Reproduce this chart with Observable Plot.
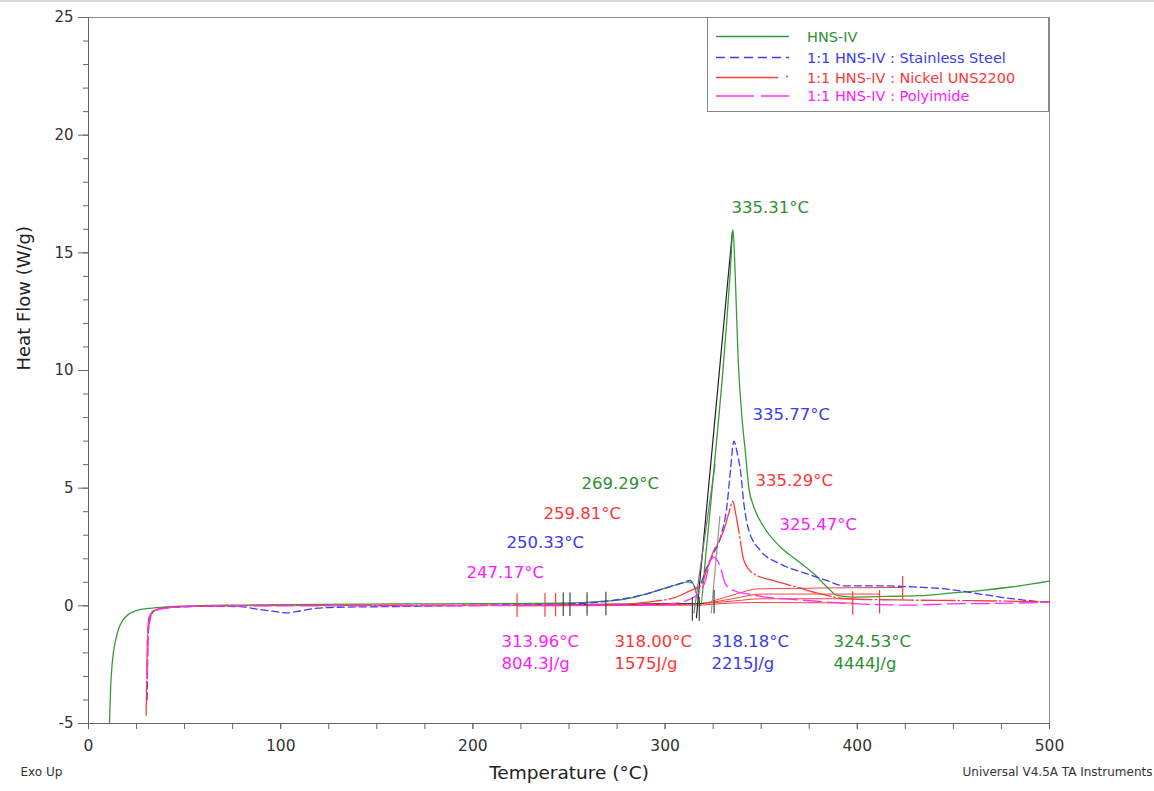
<!DOCTYPE html>
<html>
<head>
<meta charset="utf-8">
<script src="https://cdn.jsdelivr.net/npm/d3@7"></script>
<script src="https://cdn.jsdelivr.net/npm/@observablehq/plot@0.6"></script>
<style>
  body { margin: 0; background: #fff; }
  #wrap { position: relative; width: 1154px; height: 791px; }
  #topbar { position: absolute; left: 0; top: 0; width: 1154px; height: 2px; background: #d8d8d8; }
  #legend { position: absolute; left: 707px; top: 17px; width: 342px; height: 95px; border: 1px solid #888; background: #fff; box-sizing: border-box; }
  #legend svg { position: absolute; left: 0; top: 0; }
</style>
</head>
<body>
<div id="wrap"><div id="topbar"></div></div>
<script>
// ---------------- data (temperature °C, heat flow W/g) ----------------
const hnsT = [10.9, 11.5, 12.5, 14, 16, 18, 21, 25, 30, 40, 55, 80, 120, 160, 200, 230, 250, 265, 280, 290, 300, 307, 312, 314.5, 316.5, 318.4, 321, 324.5, 327, 329.7, 332, 334, 335.3, 336.5, 338, 340.1, 341.8, 343.6, 346.2, 351.4, 360, 368.7, 377.4, 384.4, 389.5, 398, 415, 432, 450, 465, 480, 500];
const hnsW = [-5, -3.5, -2.3, -1.5, -0.9, -0.6, -0.35, -0.2, -0.12, -0.05, 0, 0.03, 0.06, 0.08, 0.09, 0.1, 0.12, 0.18, 0.3, 0.5, 0.75, 0.92, 1.02, 0.95, 0.45, 0.0, 2.0, 5.0, 7.2, 9.6, 12, 14.3, 16.0, 14.0, 10.5, 7.9, 6.5, 5.0, 4.2, 3.35, 2.5, 1.93, 1.36, 0.79, 0.44, 0.37, 0.4, 0.43, 0.55, 0.66, 0.8, 1.05];

const steelT = [30.5, 30.7, 31, 32, 33, 36, 41, 48, 60, 79, 86, 95, 103.5, 110, 117, 130, 160, 200, 230, 250, 270, 290, 300, 308, 313.2, 316, 318, 321, 325, 328.8, 332.3, 334, 335.8, 337.5, 339.2, 341, 343.6, 349.6, 360, 373.9, 384.4, 393, 412, 430, 446, 464, 481, 496, 500];
const steelW = [-4.0, -2.5, -1.2, -0.6, -0.3, -0.15, -0.08, -0.05, -0.02, -0.03, -0.12, -0.22, -0.3, -0.22, -0.12, -0.06, -0.03, 0.02, 0.05, 0.08, 0.2, 0.5, 0.75, 0.95, 1.08, 0.75, 0.85, 1.5, 2.2, 2.9, 4.33, 5.75, 7.0, 6.5, 5.75, 4.33, 3.2, 2.35, 1.78, 1.36, 1.07, 0.85, 0.85, 0.8, 0.72, 0.5, 0.3, 0.17, 0.15];

const nickelT = [30, 30.3, 30.7, 31.5, 34, 40, 50, 70, 120, 200, 250, 280, 295, 305, 312, 316, 318.4, 322, 325.3, 327, 330.5, 333, 335.3, 336.5, 338.3, 341, 346.2, 356.6, 368.7, 380.8, 394.5, 420, 460, 500];
const nickelW = [-4.65, -3.0, -1.2, -0.5, -0.2, -0.08, -0.02, 0, 0.02, 0.03, 0.04, 0.08, 0.2, 0.35, 0.6, 0.75, 0.85, 1.6, 2.35, 2.6, 3.2, 3.9, 4.45, 4.0, 3.2, 1.93, 1.36, 1.07, 0.79, 0.51, 0.3, 0.25, 0.22, 0.17];

const polyT = [30.5, 30.8, 31, 32, 35, 42, 55, 80, 150, 250, 300, 305, 312, 317, 321, 323.6, 325.5, 328.8, 331.4, 335.7, 342.7, 350, 370, 400, 430, 446, 470, 500];
const polyW = [-3.1, -2.2, -1.5, -0.5, -0.2, -0.08, -0.02, 0, 0.0, 0.02, 0.05, 0.1, 0.25, 0.5, 1.07, 1.93, 2.07, 1.64, 0.93, 0.65, 0.51, 0.4, 0.25, 0.08, 0.03, 0.08, 0.1, 0.15];

// integration baselines drawn by the analysis software
const baseSteelT = [243, 318, 325.4, 337, 348, 423.6];
const baseSteelW = [0.03, 0.08, 0.22, 0.5, 0.72, 0.78];
const baseHnsT = [237.5, 318, 335, 350, 411.6];
const baseHnsW = [0.05, 0.1, 0.3, 0.5, 0.5];
const baseNickelT = [223, 318, 335, 350, 397.6];
const baseNickelW = [0.02, 0.1, 0.2, 0.3, 0.3];
const basePolyT = [223, 318, 330, 345, 397.6];
const basePolyW = [0.0, 0.03, 0.1, 0.14, 0.12];

// onset tangent lines
const tan1T = [316.3, 335.0], tan1W = [-0.5, 15.9];
const tan2T = [315.0, 326.0], tan2W = [-0.3, 6.0];
const tan3T = [324.0, 328.5], tan3W = [-0.3, 3.8];
const flatT = [247, 320], flatW = [0.05, 0.1];

// analysis limit markers
const redLimT = [223, 237.5, 243, 397.6, 411.6, 423.6];
const redLimW = [0.0, 0.02, 0.03, 0.1, 0.15, 0.75];
const blackLimT = [247, 250.5, 259.4, 269.2, 314.2, 317.8, 325.5];
const blackLimW = [0.05, 0.05, 0.06, 0.08, -0.15, -0.15, 0.15];

// peak / onset annotations
const noteText = ["335.31°C", "335.77°C", "335.29°C", "325.47°C", "269.29°C", "259.81°C", "250.33°C", "247.17°C",
                  "313.96°C", "804.3J/g", "318.00°C", "1575J/g", "318.18°C", "2215J/g", "324.53°C", "4444J/g"];
const noteT = [334.5, 345.5, 347, 359.5, 256.5, 236.7, 217.5, 196.7, 214.9, 214.9, 273.7, 273.7, 324.1, 324.1, 387.6, 387.6];
const noteW = [16.9, 8.1, 5.3, 3.45, 5.2, 3.9, 2.7, 1.4, -1.52, -2.46, -1.52, -2.46, -1.52, -2.46, -1.52, -2.46];
const noteSeries = ["hns", "steel", "nickel", "poly", "hns", "nickel", "steel", "poly", "poly", "poly", "nickel", "nickel", "steel", "steel", "hns", "hns"];

const seriesNames = ["HNS-IV", "1:1 HNS-IV : Stainless Steel", "1:1 HNS-IV : Nickel UNS2200", "1:1 HNS-IV : Polyimide"];
const yMajor = [-5, 0, 5, 10, 15, 20, 25];
const yMinor = d3.range(-5, 26, 1);
const xMajor = [0, 100, 200, 300, 400, 500];
const xMinor = d3.range(0, 501, 25);

// ---------------- styles ----------------
const colors = {hns: "#3a9a3a", steel: "#3c3cff", nickel: "#ff3c3c", poly: "#ff2cff"};
const textColors = {hns: "#2e9030", steel: "#3a3af0", nickel: "#ff3535", poly: "#ff1aff"};
const dashes = {hns: null, steel: "7,4", nickel: "34,3,1.5,3", poly: "18,6"};

const zip = (T, W) => T.map((t, i) => ({t, w: W[i]}));
const series = [
  {key: "hns", data: zip(hnsT, hnsW)},
  {key: "steel", data: zip(steelT, steelW)},
  {key: "nickel", data: zip(nickelT, nickelW)},
  {key: "poly", data: zip(polyT, polyW)}
];
const notes = noteText.map((s, i) => ({s, t: noteT[i], w: noteW[i], k: noteSeries[i]}));
const baselines = [zip(baseSteelT, baseSteelW), zip(baseHnsT, baseHnsW), zip(baseNickelT, baseNickelW), zip(basePolyT, basePolyW)];
const limits = [...zip(redLimT, redLimW).map(d => ({...d, c: "#ff3c3c"})), ...zip(blackLimT, blackLimW).map(d => ({...d, c: "#444"}))];

const font = "DejaVu Sans";
const fmt = d => String(d); // plain hyphen-minus, as in the original

const chart = Plot.plot({
  width: 1154,
  height: 791,
  marginLeft: 88,
  marginRight: 105,
  marginTop: 17,
  marginBottom: 68,
  style: {fontFamily: font, fontSize: "15px", color: "#333", background: "transparent", overflow: "visible"},
  x: {domain: [0, 500]},
  y: {domain: [-5, 25]},
  marks: [
    Plot.frame({stroke: "#8a8a8a"}),
    Plot.axisY({ticks: yMinor, tickSize: 5, tickFormat: () => "", label: null, stroke: "#666"}),
    Plot.axisY({ticks: yMajor, tickSize: 10, tickPadding: 5, tickFormat: fmt, label: null, fontSize: 15, stroke: "#666"}),
    Plot.axisX({ticks: xMinor, tickSize: 6, tickFormat: () => "", label: null, stroke: "#666"}),
    Plot.axisX({ticks: xMajor, tickSize: 6, tickPadding: 10, tickFormat: fmt, label: null, fontSize: 15.5, stroke: "#666"}),
    Plot.ruleY([-5], {stroke: "#666"}),
    Plot.ruleX([0], {stroke: "#666"}),
    // analysis baselines
    ...baselines.map(b => Plot.line(b, {x: "t", y: "w", stroke: "#ff4040", strokeWidth: 1, curve: "monotone-x"})),
    Plot.line(zip(flatT, flatW), {x: "t", y: "w", stroke: "#333", strokeWidth: 1}),
    // tangents
    Plot.line(zip(tan1T, tan1W), {x: "t", y: "w", stroke: "#222", strokeWidth: 1.2}),
    Plot.line(zip(tan2T, tan2W), {x: "t", y: "w", stroke: "#777", strokeWidth: 1.2}),
    Plot.line(zip(tan3T, tan3W), {x: "t", y: "w", stroke: "#999", strokeWidth: 1.2}),
    // curves
    ...series.map(s => Plot.line(s.data, {x: "t", y: "w", stroke: colors[s.key], strokeWidth: 1.3, strokeDasharray: dashes[s.key], curve: "monotone-x"})),
    // limit markers
    Plot.ruleX(limits, {x: "t", y1: d => d.w - 0.5, y2: d => d.w + 0.5, stroke: "c", strokeWidth: 1.2}),
    // annotations
    Plot.text(notes, {x: "t", y: "w", text: "s", fill: d => textColors[d.k], textAnchor: "start", fontSize: 16.5, lineAnchor: "middle"}),
    // axis titles and footer
    Plot.text(["Heat Flow (W/g)"], {frameAnchor: "left", rotate: -90, dx: -64, fontSize: 18, fill: "#222"}),
    Plot.text(["Temperature (°C)"], {frameAnchor: "bottom", dy: 55, fontSize: 18.5, fill: "#222"}),
    Plot.text(["Exo Up"], {frameAnchor: "bottom-left", textAnchor: "start", dx: -68, dy: 52, fontSize: 12, fill: "#333"}),
    Plot.text(["Universal V4.5A TA Instruments"], {frameAnchor: "bottom-right", textAnchor: "end", dx: 103, dy: 52, fontSize: 12, fill: "#333"})
  ]
});
const wrap = document.getElementById("wrap");
wrap.appendChild(chart);

// legend (HTML overlay)
const keys = ["hns", "steel", "nickel", "poly"];
const leg = document.createElement("div");
leg.id = "legend";
const ns = "http://www.w3.org/2000/svg";
const svg = document.createElementNS(ns, "svg");
svg.setAttribute("width", 342); svg.setAttribute("height", 95);
const rowY = [18.5, 39.5, 59.5, 78];
keys.forEach((k, i) => {
  const ln = document.createElementNS(ns, "line");
  ln.setAttribute("x1", 8); ln.setAttribute("x2", k === "nickel" ? 70 : 81);
  ln.setAttribute("y1", rowY[i]); ln.setAttribute("y2", rowY[i]);
  ln.setAttribute("stroke", colors[k]); ln.setAttribute("stroke-width", 1.6);
  if (k === "steel") ln.setAttribute("stroke-dasharray", "9,5");
  if (k === "poly") ln.setAttribute("stroke-dasharray", "38,7");
  svg.appendChild(ln);
  if (k === "nickel") {
    const dot = document.createElementNS(ns, "line");
    dot.setAttribute("x1", 78); dot.setAttribute("x2", 80);
    dot.setAttribute("y1", rowY[i] - 1); dot.setAttribute("y2", rowY[i] - 1);
    dot.setAttribute("stroke", colors[k]); dot.setAttribute("stroke-width", 1.4);
    svg.appendChild(dot);
  }
  const tx = document.createElementNS(ns, "text");
  tx.setAttribute("x", 99); tx.setAttribute("y", rowY[i]);
  tx.setAttribute("dy", "0.35em");
  tx.setAttribute("fill", textColors[k]);
  tx.setAttribute("font-family", font);
  tx.setAttribute("font-size", 14.5);
  tx.textContent = seriesNames[i];
  svg.appendChild(tx);
});
leg.appendChild(svg);
wrap.appendChild(leg);
</script>
</body>
</html>
